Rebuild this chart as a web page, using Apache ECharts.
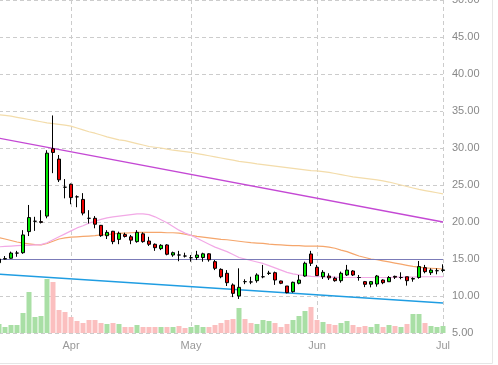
<!DOCTYPE html>
<html><head><meta charset="utf-8">
<script src="https://cdn.jsdelivr.net/npm/echarts@6/dist/echarts.min.js"></script>
<style>html,body{margin:0;padding:0;background:#fff}#c{width:498px;height:365px}</style>
</head><body><div id="c"></div>
<script>
const dates = [
 '2023-03-16','2023-03-17','2023-03-20','2023-03-21','2023-03-22','2023-03-23','2023-03-24','2023-03-27','2023-03-28','2023-03-29','2023-03-30','2023-03-31',
 '2023-04-03','2023-04-04','2023-04-05','2023-04-06','2023-04-07','2023-04-10','2023-04-11','2023-04-12','2023-04-13','2023-04-14','2023-04-17','2023-04-18','2023-04-19','2023-04-20','2023-04-21','2023-04-24','2023-04-25','2023-04-26','2023-04-27','2023-04-28',
 '2023-05-02','2023-05-03','2023-05-04','2023-05-05','2023-05-08','2023-05-09','2023-05-10','2023-05-11','2023-05-12','2023-05-15','2023-05-16','2023-05-17','2023-05-18','2023-05-19','2023-05-22','2023-05-23','2023-05-24','2023-05-25','2023-05-26','2023-05-30','2023-05-31',
 '2023-06-01','2023-06-02','2023-06-05','2023-06-06','2023-06-07','2023-06-08','2023-06-09','2023-06-12','2023-06-13','2023-06-14','2023-06-15','2023-06-16','2023-06-20','2023-06-21','2023-06-22','2023-06-23','2023-06-26','2023-06-27','2023-06-28','2023-06-29','2023-06-30',
 '2023-07-03'
];
const opens  = [14.5,15.0,15.1,15.8,15.85,18.7,20.1,20.05,20.8,29.9,28.5,24.7,25.1,23.4,23.05,20.5,20.5,19.55,18.15,18.75,17.65,18.3,18.0,17.35,18.4,17.43,16.99,16.4,16.9,15.54,15.54,15.4,15.17,15.2,15.2,15.7,14.64,13.6,13.07,11.49,10.0,11.94,11.9,12.07,12.6,13.05,13.15,12.03,11.35,10.58,11.72,12.7,15.68,13.88,12.6,12.7,12.4,12.07,12.84,13.38,12.5,11.94,11.6,11.62,12.16,11.93,12.65,12.5,12.6,12.3,12.5,13.83,13.15,13.42,13.45];
const closes = [15.0,15.05,15.8,15.8,18.25,20.6,20.1,19.95,29.3,29.4,25.7,24.7,23.3,23.4,21.2,20.5,19.7,18.15,18.6,17.35,18.47,18.05,17.55,18.6,17.35,16.99,16.53,16.85,15.64,15.85,15.54,15.4,15.17,15.54,15.7,14.9,13.74,12.6,11.8,10.36,11.17,11.94,11.9,12.84,12.6,13.1,12.16,11.72,10.45,11.85,12.16,14.42,14.42,12.75,13.2,12.45,12.07,13.07,13.5,12.84,12.5,11.58,11.94,12.7,11.8,12.5,12.55,12.5,12.07,12.35,13.97,13.29,13.5,13.42,13.53];
const lows   = [14.4,14.95,15.05,15.3,15.7,18.1,18.8,19.8,20.5,26.6,25.4,23.2,22.4,22.0,20.9,19.8,19.15,18.0,17.7,17.0,17.0,17.9,17.0,17.2,17.2,16.76,16.1,16.2,15.5,15.3,14.7,15.2,14.64,14.86,14.64,14.64,13.5,12.4,11.35,9.85,9.6,11.6,11.6,11.8,12.4,12.84,11.5,11.6,10.36,10.45,11.58,12.6,14.05,12.7,12.3,12.16,11.93,11.8,12.7,12.7,12.07,11.2,11.17,11.26,11.6,11.9,12.3,12.26,11.4,11.93,12.34,13.07,12.84,12.93,13.2];
const highs  = [15.1,15.4,16.0,16.1,18.9,22.3,20.7,21.6,29.7,34.4,29.05,25.8,25.2,23.6,23.9,21.6,20.8,19.6,18.9,18.8,18.7,18.55,18.25,18.9,18.6,18.0,17.1,17.0,17.0,16.0,16.1,15.85,15.54,16.1,15.85,15.77,14.86,13.74,13.5,11.7,13.74,12.26,12.6,13.07,14.2,13.4,13.3,12.07,11.35,11.94,12.84,14.64,16.1,14.2,13.5,13.07,12.6,13.3,14.2,13.5,12.84,12.03,12.03,12.84,12.26,12.7,12.75,13.2,12.6,12.52,14.73,14.2,13.74,13.74,14.28];
const volumes = [0.9,0.6,0.8,0.8,2.0,4.1,1.6,1.7,5.4,5.1,2.3,2.1,1.6,1.2,1.0,1.3,1.3,1.0,0.9,1.0,0.9,0.6,0.6,0.8,0.6,0.6,0.6,0.6,0.6,0.6,0.7,0.5,0.6,0.8,0.6,0.6,0.8,1.0,1.3,1.4,2.5,1.4,1.0,0.9,1.3,1.2,1.0,0.6,0.9,1.3,1.7,2.2,2.6,1.3,1.1,0.9,0.8,1.0,1.2,0.8,0.6,0.7,0.6,0.9,0.6,0.8,0.7,0.6,0.9,1.9,1.9,1.0,0.7,0.6,0.7];
const volumeUp = [1,1,1,1,1,1,1,1,1,0,0,0,0,0,0,0,0,0,1,0,1,0,0,1,0,0,0,1,0,1,0,0,1,1,1,0,0,0,0,0,1,0,0,1,1,1,0,0,0,1,1,1,0,0,1,0,0,1,1,0,0,0,1,1,0,1,0,1,0,1,1,0,1,1,1];
const maShort = [16.65,16.7,16.75,16.8,16.85,16.85,16.9,16.95,17.2,17.6,18.0,18.4,18.8,19.2,19.5,19.85,20.1,20.35,20.55,20.7,20.8,20.9,21.0,21.1,21.1,21.0,20.7,20.3,19.9,19.4,18.9,18.5,18.2,17.8,17.4,17.0,16.6,16.3,16.0,15.6,15.2,15.0,14.8,14.6,14.4,14.1,13.8,13.5,13.2,13.0,12.85,12.75,12.65,12.6,12.6,12.55,12.55,12.5,12.5,12.5,12.5,12.5,12.5,12.5,12.5,12.5,12.55,12.55,12.55,12.55,12.6,12.6,12.6,12.6,12.6];
const maMid = [17.9,17.7,17.5,17.3,17.15,17.05,16.95,16.9,17.1,17.4,17.7,17.85,17.95,18.0,18.05,18.1,18.15,18.25,18.3,18.4,18.45,18.5,18.55,18.6,18.6,18.6,18.6,18.6,18.55,18.55,18.5,18.35,18.2,18.05,17.95,17.85,17.75,17.65,17.6,17.5,17.4,17.3,17.2,17.15,17.1,17.0,16.95,16.9,16.85,16.8,16.8,16.75,16.75,16.75,16.7,16.6,16.45,16.2,16.0,15.7,15.4,15.2,15.0,14.9,14.75,14.6,14.45,14.3,14.15,14.0,13.9,13.8,13.75,13.7,13.65];
const maLong = [34.5,34.4,34.3,34.15,34.0,33.85,33.7,33.55,33.4,33.3,33.2,33.1,32.95,32.7,32.45,32.2,32.0,31.75,31.5,31.3,31.1,31.0,30.8,30.6,30.4,30.2,30.1,30.0,29.85,29.7,29.6,29.5,29.4,29.25,29.1,28.95,28.8,28.65,28.5,28.35,28.2,28.1,28.0,27.85,27.75,27.65,27.55,27.45,27.35,27.25,27.15,27.05,26.95,26.9,26.8,26.7,26.55,26.4,26.25,26.1,26.0,25.9,25.8,25.7,25.55,25.4,25.2,25.0,24.8,24.6,24.4,24.25,24.1,23.95,23.8];
const trendUpper = [31.33, 20.0];
const trendLower = [12.94, 9.05];
const refLevel = 15;
const lastPrice = 13.53;
const priceMin = 5, priceMax = 50, priceStep = 5;
const monthNames = ['Jan','Feb','Mar','Apr','May','Jun','Jul','Aug','Sep','Oct','Nov','Dec'];

const isMonthStart = (i) => i > 0 && dates[i].slice(5,7) !== dates[i-1].slice(5,7);
const candleData = dates.map((d, i) => [opens[i], closes[i], lows[i], highs[i]]);
const volData = volumes.map((v, i) => ({value: v, itemStyle: {color: volumeUp[i] ? '#a9dfa5' : '#fbbfbf'}}));
const lastIdx = dates.length - 1;

const chart = echarts.init(document.getElementById('c'), null, {renderer: 'canvas'});
const gridL = -1, gridR = 55, gridB = 32;
chart.setOption({
  animation: false,
  backgroundColor: '#fff',
  textStyle: {fontFamily: 'Liberation Sans, Arial, sans-serif'},
  grid: [
    {left: gridL, right: gridR, top: 0, bottom: gridB, containLabel: false, outerBoundsMode: 'none'},
    {left: gridL, right: gridR, bottom: gridB, height: 60, containLabel: false, outerBoundsMode: 'none'}
  ],
  xAxis: [
    {type: 'category', gridIndex: 0, data: dates, boundaryGap: false,
     axisLine: {show: false}, axisTick: {show: false},
     axisLabel: {interval: (i) => isMonthStart(i), formatter: (v) => monthNames[+v.slice(5,7)-1],
       color: '#999', fontSize: 11, margin: 7, showMaxLabel: true},
     splitLine: {show: true, interval: (i) => isMonthStart(i), lineStyle: {color: '#cccccc', type: [4,3], width: 1}}},
    {type: 'category', gridIndex: 1, data: dates, boundaryGap: false, show: false}
  ],
  yAxis: [
    {type: 'value', gridIndex: 0, position: 'right', min: priceMin, max: priceMax, interval: priceStep,
     axisLine: {show: false}, axisTick: {show: false},
     axisLabel: {formatter: (v) => v.toFixed(2), color: '#888', fontSize: 11, margin: 9},
     splitLine: {lineStyle: {color: '#cccccc', type: [4,3], width: 1}}},
    {type: 'value', gridIndex: 1, min: 0, max: 6, show: false, splitLine: {show: false}}
  ],
  graphic: [
    {type: 'line', shape: {x1: 492.5, y1: 0, x2: 492.5, y2: 363.5}, style: {stroke: '#e6e6e6', lineWidth: 1}},
    {type: 'line', shape: {x1: 0, y1: 363.5, x2: 492.5, y2: 363.5}, style: {stroke: '#e6e6e6', lineWidth: 1}}
  ],
  series: [
    {type: 'bar', xAxisIndex: 1, yAxisIndex: 1, data: volData, barWidth: 5, z: 1, clip: false},
    {type: 'line', data: maLong, showSymbol: false, symbol: 'none', lineStyle: {color: '#f3dcaa', width: 1.2}, z: 2},
    {type: 'line', data: maMid, showSymbol: false, symbol: 'none', lineStyle: {color: '#f5a66c', width: 1.2}, z: 2},
    {type: 'line', data: maShort, showSymbol: false, symbol: 'none', lineStyle: {color: '#f2a9e6', width: 1.2}, z: 2},
    {type: 'candlestick', data: candleData, barWidth: 3, clip: false, z: 5,
     itemStyle: {color: '#00e800', color0: '#ee0000', borderColor: '#000', borderColor0: '#000', borderWidth: 1},
     markLine: {
       silent: true, symbol: ['none','none'], animation: false,
       data: [
         {yAxis: refLevel, lineStyle: {color: '#7b7bb8', type: 'solid', width: 1}, label: {show: false}},
         {yAxis: lastPrice, lineStyle: {opacity: 0}, label: {show: true, position: 'end', distance: 6,
           formatter: lastPrice.toFixed(2), backgroundColor: '#ffff00', color: '#888', fontSize: 11, padding: [1,2,0,2]}},
         [{coord: [dates[0], trendUpper[0]]}, {coord: [dates[lastIdx], trendUpper[1]], lineStyle: {color: '#c448d4', type: 'solid', width: 1.3}, label: {show: false}}],
         [{coord: [dates[0], trendLower[0]]}, {coord: [dates[lastIdx], trendLower[1]], lineStyle: {color: '#1f9de2', type: 'solid', width: 1.6}, label: {show: false}}]
       ]
     }}
  ]
});
</script></body></html>
